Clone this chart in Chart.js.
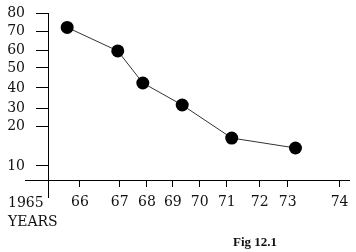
<!DOCTYPE html>
<html>
<head>
<meta charset="utf-8">
<script src="https://cdn.jsdelivr.net/npm/chart.js@4/dist/chart.umd.min.js"></script>
<style>
  html, body { margin: 0; padding: 0; background: #fff; }
  canvas { display: block; }
</style>
</head>
<body>
<canvas id="fig" width="356" height="252"></canvas>
<script>
// values
const years = [1965.6, 1966.95, 1967.85, 1969.35, 1971.15, 1973.15];
const values = [72, 59.5, 42.5, 31.5, 17, 14.5];

const xTickValues = [1966, 1967, 1968, 1969, 1970, 1971, 1972, 1973, 1974];
const xTickLabels = ['66', '67', '68', '69', '70', '71', '72', '73', '74'];
const yTickValues = [10, 20, 30, 40, 50, 60, 70, 80];
const yTickLabels = ['10', '20', '30', '40', '50', '60', '70', '80'];

// the printed axes are not evenly spaced, so each scale bends through these points
// (value, fraction of the axis length)
const bends = {
  x: [[1965, 0], [1966, 0.106], [1967, 0.238], [1968, 0.328], [1969, 0.414], [1970, 0.503],
      [1971, 0.593], [1972, 0.702], [1973, 0.795], [1974, 0.967], [1974.3, 1]],
  y: [[0, 0], [10, 0.084], [20, 0.323], [30, 0.431], [40, 0.551], [50, 0.671],
      [60, 0.778], [70, 0.892], [80, 1]]
};

function bend(pairs, v) {
  for (let i = 1; i < pairs.length; i++) {
    const [v0, f0] = pairs[i - 1], [v1, f1] = pairs[i];
    if (v <= v1 || i === pairs.length - 1) return f0 + (v - v0) / (v1 - v0) * (f1 - f0);
  }
}
function unbend(pairs, f) {
  for (let i = 1; i < pairs.length; i++) {
    const [v0, f0] = pairs[i - 1], [v1, f1] = pairs[i];
    if (f <= f1 || i === pairs.length - 1) return v0 + (f - f0) / (f1 - f0) * (v1 - v0);
  }
}

const Linear = Chart.LinearScale || Chart.registry.getScale('linear');
class BentScale extends Linear {
  getPixelForValue(v) {
    if (v === null || v === undefined) return NaN;
    return this.getPixelForDecimal(bend(bends[this.id], v));
  }
  getValueForPixel(p) {
    return unbend(bends[this.id], this.getDecimalForPixel(p));
  }
}
BentScale.id = 'bent';
BentScale.defaults = Linear.defaults;
Chart.register(BentScale);

const serif = "'DejaVu Serif', serif";

// the hand drawn axes cross: lines run past the origin, plus the loose texts
const extras = {
  id: 'extras',
  afterDraw(chart) {
    const c = chart.ctx, a = chart.chartArea;
    c.save();
    c.strokeStyle = '#000';
    c.lineWidth = 1;
    c.beginPath();
    c.moveTo(25, a.bottom + 0.5);
    c.lineTo(a.left, a.bottom + 0.5);
    c.moveTo(a.left + 0.5, a.bottom);
    c.lineTo(a.left + 0.5, a.bottom + 18);
    c.stroke();
    c.fillStyle = '#111';
    c.textBaseline = 'middle';
    c.textAlign = 'left';
    c.font = '14px ' + serif;
    c.fillText('1965', 8, 203);
    c.fillText('YEARS', 8, 222);
    c.font = "bold 13px 'Liberation Serif', serif";
    c.fillText('Fig 12.1', 233, 243);
    c.restore();
  }
};

new Chart(document.getElementById('fig'), {
  type: 'line',
  data: {
    datasets: [{
      data: years.map((y, i) => ({ x: y, y: values[i] })),
      borderColor: '#333',
      borderWidth: 1,
      pointRadius: 6.5,
      pointBackgroundColor: '#000',
      pointBorderColor: '#000',
      pointBorderWidth: 0,
      tension: 0
    }]
  },
  options: {
    responsive: false,
    animation: false,
    layout: { padding: { left: 8, right: 4.5, top: 13, bottom: 0 } },
    plugins: { legend: { display: false }, tooltip: { enabled: false } },
    scales: {
      x: {
        type: 'bent',
        position: 'bottom',
        min: 1965,
        max: 1974.3,
        afterBuildTicks: s => { s.ticks = xTickValues.map(v => ({ value: v })); },
        afterFit: s => { s.height = 72; },
        grid: { display: true, drawOnChartArea: false, drawTicks: true, tickLength: 7, color: '#000' },
        border: { display: true, color: '#000', width: 1 },
        ticks: {
          autoSkip: false,
          maxRotation: 0,
          padding: 7,
          color: '#111',
          font: { family: serif, size: 14 },
          callback: (v, i) => xTickLabels[i]
        }
      },
      y: {
        type: 'bent',
        position: 'left',
        min: 0,
        max: 80,
        afterBuildTicks: s => { s.ticks = yTickValues.map(v => ({ value: v })); },
        afterFit: s => { s.width = 40; s.paddingTop = 0; s.paddingBottom = 0; },
        grid: { display: true, drawOnChartArea: false, drawTicks: true, tickLength: 12, color: '#000' },
        border: { display: true, color: '#000', width: 1 },
        ticks: {
          autoSkip: false,
          padding: 11,
          color: '#111',
          font: { family: serif, size: 14 },
          callback: (v, i) => yTickLabels[i]
        }
      }
    }
  },
  plugins: [extras]
});
</script>
</body>
</html>
